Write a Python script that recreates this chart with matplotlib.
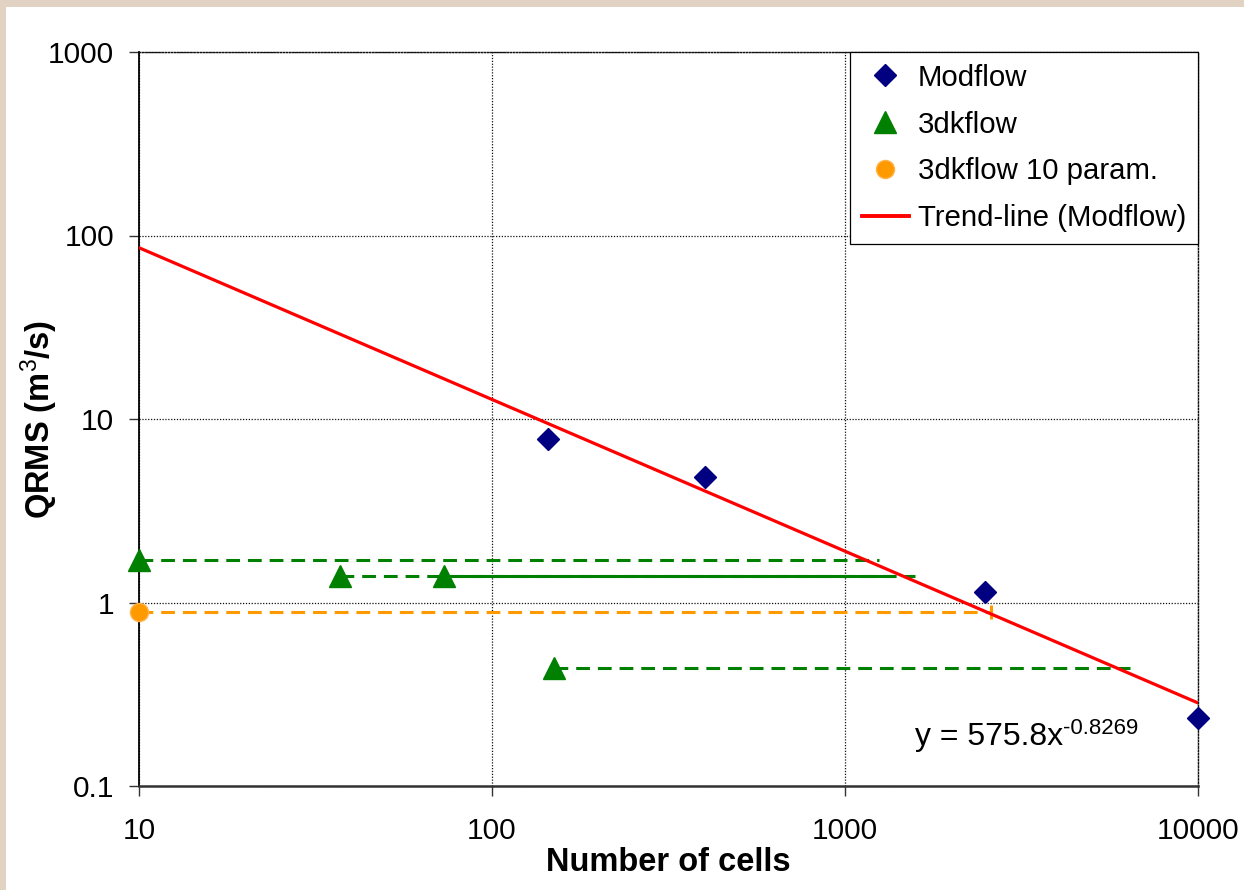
import numpy as np
import matplotlib.pyplot as plt
from matplotlib.patches import Rectangle
from matplotlib.lines import Line2D

plt.rcParams['font.family'] = ['Liberation Sans', 'DejaVu Sans']
plt.rcParams['mathtext.fontset'] = 'custom'
plt.rcParams['mathtext.rm'] = 'Liberation Sans'
plt.rcParams['mathtext.bf'] = 'Liberation Sans:bold'
plt.rcParams['mathtext.it'] = 'Liberation Sans:italic'

# Modflow runs
mod_x = [144, 400, 2500, 10000]
mod_y = [7.8, 4.8, 1.14, 0.235]

# 3dkflow runs, with the range each one covers
dk_x = [10, 37, 73, 150]
dk_y = [1.7, 1.39, 1.39, 0.44]
dk_end = [1250, 1580, 1390, 6400]
dk_style = ['dash', 'dash', 'solid', 'dash']

# 3dkflow with 10 parameters
p10_x = [10]
p10_y = [0.89]
p10_end = [2600]

# trend line (Modflow): y = a * x^b
trend_a = 575.8
trend_b = -0.8269
trend_x = [10, 10000]

xticks = [10, 100, 1000, 10000]
yticks = [0.1, 1, 10, 100, 1000]

navy = '#000080'
green = '#008000'
orange = '#FF9900'
red = '#FF0000'

fig = plt.figure(figsize=(12.44, 8.90), dpi=100)
fig.patch.set_facecolor('#e2d2c4')
fig.add_artist(Rectangle((6 / 1244, 0), 1, 1 - 7 / 890, transform=fig.transFigure,
                         facecolor='white', edgecolor='none', zorder=-10))

ax = fig.add_axes([139 / 1244, 1 - 786 / 890, 1059 / 1244, 734 / 890])
ax.set_xscale('log')
ax.set_yscale('log')
ax.set_xlim(10, 10000)
ax.set_ylim(0.1, 1000)

lw = 2.2
dash = (4.5, 2.6)

# horizontal ranges
for x0, y0, x1, st in zip(dk_x, dk_y, dk_end, dk_style):
    line, = ax.plot([x0, x1], [y0, y0], color=green, lw=lw, zorder=2,
                    solid_capstyle='butt', dash_capstyle='butt')
    if st == 'dash':
        line.set_dashes(dash)
for x0, y0, x1 in zip(p10_x, p10_y, p10_end):
    line, = ax.plot([x0, x1], [y0, y0], color=orange, lw=lw, zorder=2,
                    dash_capstyle='butt')
    line.set_dashes(dash)
    ax.plot([x1], [y0], marker='|', color=orange, ms=10, mew=2.2, zorder=3)

# trend line
tx = np.array(trend_x, dtype=float)
ax.plot(tx, trend_a * tx ** trend_b, color=red, lw=2.3, zorder=3)

# points
ax.plot(mod_x, mod_y, 'D', color=navy, ms=11.5, mec=navy, zorder=5, clip_on=False)
ax.plot(dk_x, dk_y, '^', color=green, ms=16, mec=green, zorder=5, clip_on=False)
ax.plot(p10_x, p10_y, 'o', color=orange, ms=13, mec='#ffb347', mew=1, zorder=5, clip_on=False)

ax.set_xticks(xticks)
ax.set_xticklabels([str(v) for v in xticks])
ax.set_yticks(yticks)
ax.set_yticklabels(['0.1', '1', '10', '100', '1000'])
ax.minorticks_off()
ax.tick_params(axis='both', which='major', labelsize=21.5, length=7, width=1,
               color='#333333', direction='out')
ax.tick_params(axis='x', pad=15)
ax.tick_params(axis='y', pad=11)

ax.grid(True, which='major', color='#111111', lw=0.9, linestyle=(0, (1, 1.3)))
for side in ['top', 'right']:
    ax.spines[side].set_linestyle((0, (1, 1.3)))
    ax.spines[side].set_linewidth(1)
    ax.spines[side].set_color('#111111')
ax.spines['left'].set_linewidth(1.3)
ax.spines['left'].set_color('black')
ax.spines['bottom'].set_linewidth(1.8)
ax.spines['bottom'].set_color('#333333')

ax.set_xlabel('Number of cells', fontsize=23.5, fontweight='bold')
ax.set_ylabel('QRMS (m$^{3}$/s)', fontsize=23.5, fontweight='bold')
ax.xaxis.set_label_coords(0.5, -0.083)
ax.yaxis.set_label_coords(-0.0746, 0.5)

eq = ax.text(0.733, 0.056, 'y = 575.8x', transform=ax.transAxes,
             fontsize=23, va='baseline', ha='left')
ax.annotate('-0.8269', xy=(1, 1), xycoords=eq, xytext=(0, 3), textcoords='offset points',
            fontsize=16, va='top', ha='left')

handles = [
    Line2D([], [], ls='none', marker='D', color=navy, ms=11.5),
    Line2D([], [], ls='none', marker='^', color=green, ms=16),
    Line2D([], [], ls='none', marker='o', color=orange, ms=13, mec='#ffb347'),
    Line2D([], [], color=red, lw=2.8),
]
labels = ['Modflow', '3dkflow', '3dkflow 10 param.', 'Trend-line (Modflow)']
leg = ax.legend(handles, labels, loc='upper right', bbox_to_anchor=(1, 1),
                borderaxespad=0, fancybox=False, edgecolor='black', framealpha=1,
                fontsize=21.2, handlelength=1.6, handletextpad=0.3,
                labelspacing=0.64, borderpad=0.4, numpoints=1)
leg.get_frame().set_linewidth(0.9)
leg.set_zorder(10)

fig.savefig('out.png', dpi=100, facecolor=fig.get_facecolor())
